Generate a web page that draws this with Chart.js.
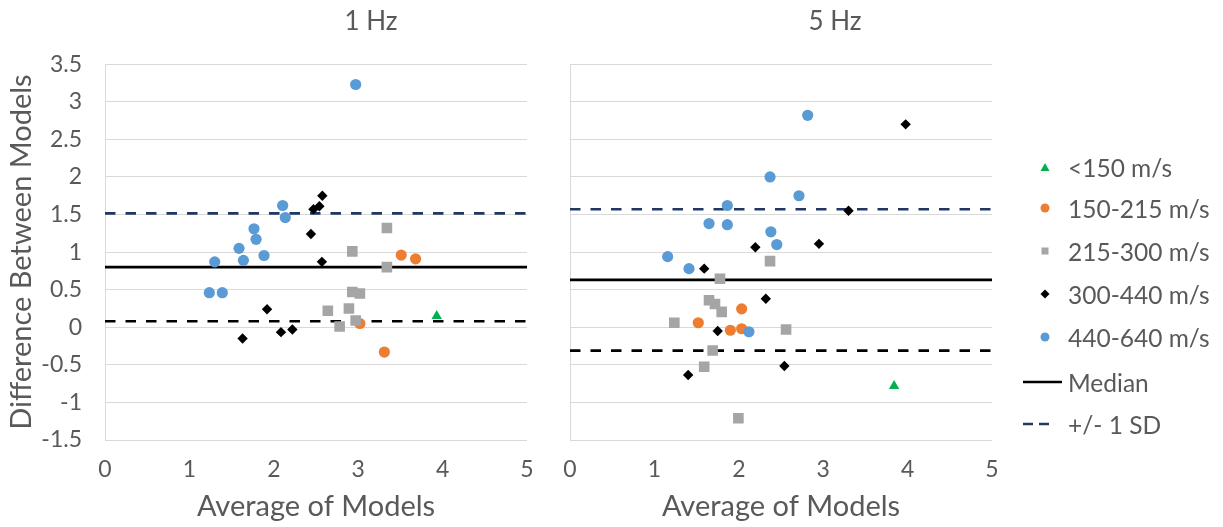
<!DOCTYPE html>
<html>
<head>
<meta charset="utf-8">
<title>Difference Between Models</title>
<script src="https://cdn.jsdelivr.net/npm/chart.js@4.4.1/dist/chart.umd.min.js"></script>
<style>
  body { margin: 0; background: #fff; width: 1223px; height: 527px; position: relative; overflow: hidden; font-family: Lato, sans-serif; }
  canvas { position: absolute; top: 0; }
  #left { left: 0; }
  #right { left: 545px; }
  .item { position: absolute; left: 1015px; height: 30px; display: flex; align-items: center; color: #595959; font-size: 24.5px; white-space: nowrap; }
  .item span { margin-left: 5px; }
</style>
</head>
<body>
<canvas id="left" width="742" height="527"></canvas>
<canvas id="right" width="580" height="527"></canvas>

<div class="item" style="top:152px"><svg width="48" height="30"><polygon points="30,11 34.5,19 25.5,19" fill="#00B050"/></svg><span>&lt;150 m/s</span></div>
<div class="item" style="top:193px"><svg width="48" height="30"><circle cx="30" cy="15" r="4.5" fill="#ED7D31"/></svg><span>150-215 m/s</span></div>
<div class="item" style="top:236px"><svg width="48" height="30"><rect x="26.5" y="11.5" width="7" height="7" fill="#A5A5A5"/></svg><span>215-300 m/s</span></div>
<div class="item" style="top:279px"><svg width="48" height="30"><polygon points="30,10.5 34.5,15 30,19.5 25.5,15" fill="#000"/></svg><span>300-440 m/s</span></div>
<div class="item" style="top:322px"><svg width="48" height="30"><circle cx="30" cy="15" r="4.5" fill="#5B9BD5"/></svg><span>440-640 m/s</span></div>
<div class="item" style="top:367px"><svg width="48" height="30"><line x1="8" y1="15" x2="47" y2="15" stroke="#000" stroke-width="2.5"/></svg><span>Median</span></div>
<div class="item" style="top:409px"><svg width="48" height="30"><line x1="8" y1="15" x2="40" y2="15" stroke="#203864" stroke-width="2.5" stroke-dasharray="10 6"/></svg><span>+/- 1 SD</span></div>

<script>
// speed groups
var groupNames = ['<150 m/s', '150-215 m/s', '215-300 m/s', '300-440 m/s', '440-640 m/s'];

// 1 Hz: [average, difference]
var hz1Below150 = [[3.93, 0.15]];
var hz1From150 = [[3.51, 0.96], [3.68, 0.91], [3.02, 0.05], [3.31, -0.33]];
var hz1From215 = [[3.34, 1.32], [2.93, 1.01], [3.34, 0.80], [2.93, 0.47], [3.02, 0.45],
                  [2.64, 0.22], [2.89, 0.25], [2.97, 0.09], [2.78, 0.01]];
var hz1From300 = [[2.575, 1.75], [2.47, 1.57], [2.54, 1.61], [2.44, 1.24], [2.57, 0.87],
                  [1.92, 0.24], [1.63, -0.15], [2.085, -0.065], [2.22, -0.03]];
var hz1From440 = [[2.97, 3.23], [2.105, 1.62], [2.136, 1.46], [1.765, 1.31], [1.79, 1.17],
                  [1.588, 1.05], [1.884, 0.955], [1.64, 0.89], [1.30, 0.87], [1.236, 0.46], [1.39, 0.46]];

// 5 Hz: [average, difference]
var hz5Below150 = [[3.84, -0.78]];
var hz5From150 = [[2.034, 0.245], [1.52, 0.06], [1.90, -0.04], [2.034, -0.02]];
var hz5From215 = [[2.37, 0.88], [1.777, 0.645], [1.647, 0.36], [1.718, 0.31], [1.797, 0.205],
                  [1.236, 0.06], [2.56, -0.03], [1.69, -0.31], [1.59, -0.525], [1.995, -1.21]];
var hz5From300 = [[3.977, 2.70], [3.30, 1.55], [2.95, 1.11], [2.196, 1.065], [1.59, 0.78],
                  [2.32, 0.38], [1.75, -0.05], [1.40, -0.635], [2.54, -0.515]];
var hz5From440 = [[2.816, 2.82], [2.37, 2.00], [2.713, 1.75], [1.864, 1.62], [1.647, 1.38],
                  [1.864, 1.365], [2.38, 1.27], [2.45, 1.10], [1.157, 0.94], [1.41, 0.78], [2.12, -0.06]];

// reference lines: [1 Hz, 5 Hz]
var medians = [0.80, 0.63];
var sdUpper = [1.515, 1.57];
var sdLower = [0.08, -0.31];

var xRange = [0, 5];
var yRange = [-1.5, 3.5];

var groupColors = ['#00B050', '#ED7D31', '#A5A5A5', '#000000', '#5B9BD5'];
var groupShapes = ['triangle', 'circle', 'rect', 'rectRot', 'circle'];
var groupRadius = [6, 5.6, 7.5, 5.2, 5.6];

var textColor = '#595959';
Chart.defaults.font.family = 'Lato';
Chart.defaults.color = textColor;

function hLine(value, color, dash) {
    return {
        data: [{x: xRange[0], y: value}, {x: xRange[1], y: value}],
        showLine: true,
        pointRadius: 0,
        borderColor: color,
        borderWidth: 2.7,
        borderDash: dash,
        order: 10
    };
}

function makePanel(canvasId, title, groups, idx, showY, yWidth, padRight) {
    var datasets = groups.map(function (pts, i) {
        return {
            label: groupNames[i],
            data: pts.map(function (p) { return {x: p[0], y: p[1]}; }),
            pointStyle: groupShapes[i],
            pointRadius: groupRadius[i],
            pointHoverRadius: groupRadius[i],
            backgroundColor: groupColors[i],
            borderColor: groupColors[i],
            borderWidth: 0,
            order: 5 - i
        };
    });
    datasets.push(hLine(medians[idx], '#000000', []));
    datasets.push(hLine(sdUpper[idx], '#203864', [10.5, 10]));
    datasets.push(hLine(sdLower[idx], '#000000', [10.5, 10]));

    return new Chart(document.getElementById(canvasId), {
        type: 'scatter',
        data: {datasets: datasets},
        options: {
            responsive: false,
            animation: false,
            layout: {padding: 0},
            plugins: {
                legend: {display: false},
                tooltip: {enabled: false},
                title: {
                    display: true,
                    text: title,
                    color: textColor,
                    font: {size: 26, weight: 'normal'},
                    padding: {top: 6, bottom: 27}
                }
            },
            scales: {
                x: {
                    type: 'linear',
                    min: xRange[0],
                    max: xRange[1],
                    ticks: {stepSize: 1, font: {size: 23}, padding: 16, color: textColor},
                    grid: {display: false, drawTicks: false},
                    border: {display: false},
                    title: {display: true, text: 'Average of Models', color: textColor,
                            font: {size: 29}, padding: {top: 0, bottom: 3}},
                    afterFit: function (scale) { scale.height = 87; }
                },
                y: {
                    min: yRange[0],
                    max: yRange[1],
                    ticks: {
                        stepSize: 0.5,
                        display: showY,
                        font: {size: 23},
                        padding: 23,
                        color: textColor,
                        callback: function (v) { return String(v); }
                    },
                    grid: {color: '#D9D9D9', lineWidth: 1, drawTicks: false},
                    border: {display: true, color: '#D9D9D9', width: 1},
                    title: {display: showY, text: 'Difference Between Models', color: textColor,
                            font: {size: 29}, padding: {top: 4.5, bottom: 0}},
                    afterFit: function (scale) { scale.width = yWidth; }
                },
                // empty right-hand box so the title centres over the whole panel
                pad: {
                    type: 'linear',
                    position: 'right',
                    grid: {display: false, drawTicks: false},
                    ticks: {display: false},
                    border: {display: false},
                    afterFit: function (scale) { scale.width = padRight; }
                }
            }
        }
    });
}

makePanel('left', '1 Hz', [hz1Below150, hz1From150, hz1From215, hz1From300, hz1From440], 0, true, 105, 215);
makePanel('right', '5 Hz', [hz5Below150, hz5From150, hz5From215, hz5From300, hz5From440], 1, false, 25, 133);
</script>
</body>
</html>
